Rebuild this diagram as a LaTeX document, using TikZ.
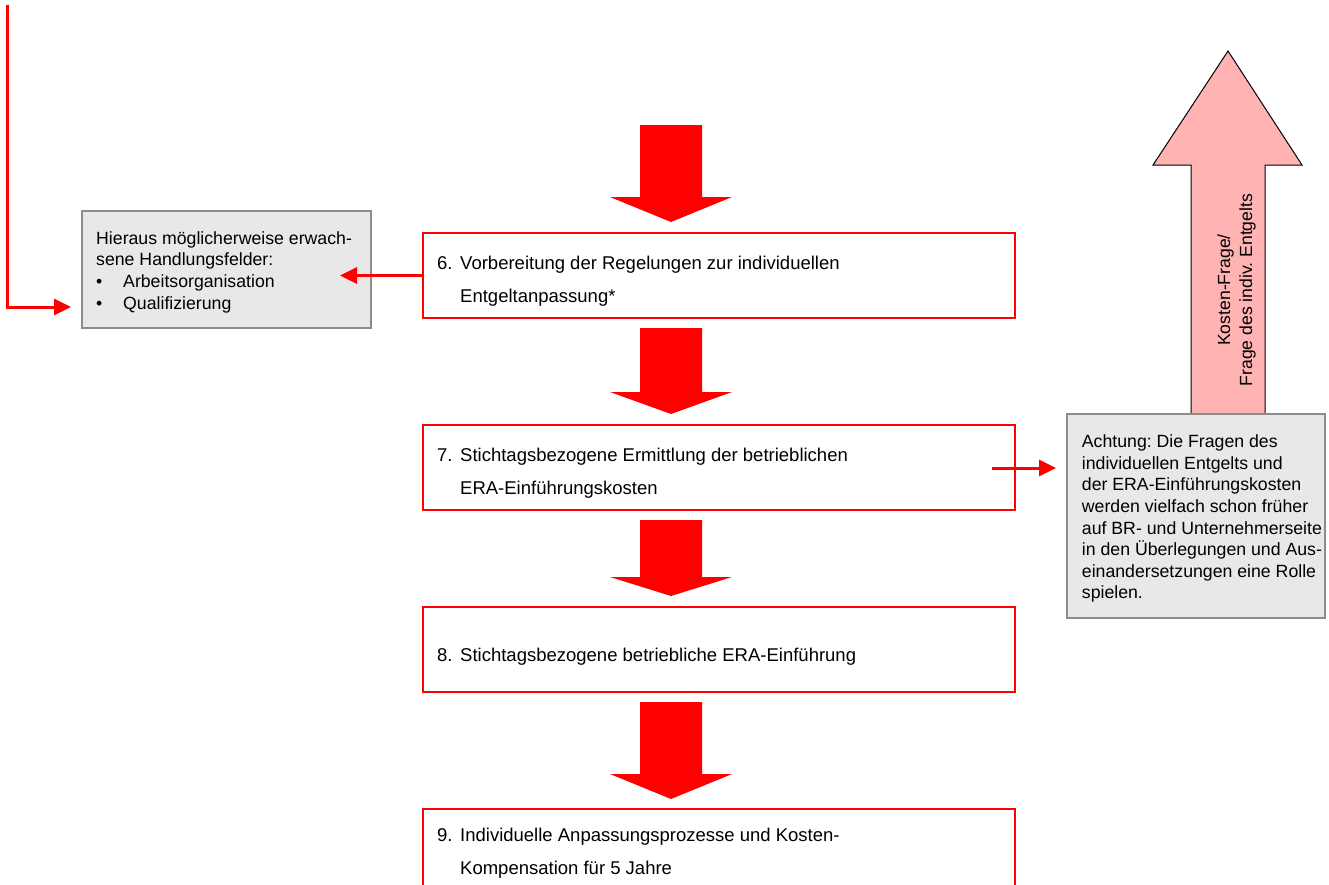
\documentclass[tikz,border=0pt]{standalone}
\usepackage{fontspec}
\setmainfont{Liberation Sans}
\usetikzlibrary{arrows.meta}
\definecolor{arrred}{RGB}{255,0,0}
\definecolor{graybg}{RGB}{232,232,232}
\definecolor{grayline}{RGB}{140,140,140}
\definecolor{pinkfill}{RGB}{255,179,179}
\newcommand{\redblockarrow}[3]{\fill[arrred] (640,#1) -- (702,#1) -- (702,#2) -- (732,#2) -- (671,#3) -- (610,#2) -- (640,#2) -- cycle;}
\frenchspacing
\begin{document}
\begin{tikzpicture}[x=1pt,y=-1pt,
 redbox/.style={draw=arrred, line width=2pt, rectangle, inner sep=0pt, minimum width=592pt, minimum height=85pt},
 steptext/.style={anchor=base west, inner sep=0pt, font=\fontsize{18.5}{32.8}\selectfont},
 notebox/.style={draw=grayline, fill=graybg, line width=1.5pt, rectangle, inner sep=0pt},
 notetext/.style={anchor=base west, inner sep=0pt, font=\fontsize{17.7}{21.6}\selectfont},
 redline/.style={draw=arrred, line width=3pt, -{Triangle[length=17pt,width=16pt]}}
]
\useasboundingbox (0,0) rectangle (1329,884);

% block arrows
\redblockarrow{125}{197}{222}
\redblockarrow{328}{392}{414}
\redblockarrow{520}{577}{596}
\redblockarrow{702}{774}{799}

% step boxes
\node[redbox] (b6) at (719,275.5) {};
\node[redbox] (b7) at (719,467.5) {};
\node[redbox] (b8) at (719,649.5) {};
\node[redbox, minimum height=90pt] (b9) at (719,854) {};

\node[steptext] (t6) at (437,269.5) {\begin{tabular}[t]{@{}l@{}l@{}}\makebox[23pt][l]{6.}&Vorbereitung der Regelungen zur individuellen\\ &Entgeltanpassung*\end{tabular}};
\node[steptext] (t7) at (437,461.7) {\begin{tabular}[t]{@{}l@{}l@{}}\makebox[23pt][l]{7.}&Stichtagsbezogene Ermittlung der betrieblichen\\ &ERA-Einführungskosten\end{tabular}};
\node[steptext] (t8) at (437,661) {\makebox[23pt][l]{8.}Stichtagsbezogene betriebliche ERA-Einführung};
\node[steptext] (t9) at (437,841.7) {\begin{tabular}[t]{@{}l@{}l@{}}\makebox[23pt][l]{9.}&Individuelle Anpassungsprozesse und Kosten-\\ &Kompensation für 5 Jahre\end{tabular}};

% left note
\node[notebox, minimum width=289pt, minimum height=117pt] (gl) at (226.5,269.5) {};
\node[notetext] (tl) at (96,244.3) {\begin{tabular}[t]{@{}l@{}l@{}}\multicolumn{2}{@{}l@{}}{Hieraus möglicherweise erwach-}\\ \multicolumn{2}{@{}l@{}}{sene Handlungsfelder:}\\ \makebox[27pt][l]{•}&Arbeitsorganisation\\ \makebox[27pt][l]{•}&Qualifizierung\end{tabular}};

% pink arrow
\filldraw[fill=pinkfill, draw=black, line width=1pt] (1191,415) -- (1191,165) -- (1153,165) -- (1228,51) -- (1302,165) -- (1265,165) -- (1265,415);
\node[rotate=90, anchor=base, inner sep=0pt, font=\fontsize{17.6}{22}\selectfont] (tk) at (1230,290) {\begin{tabular}[t]{@{}c@{}}Kosten-Frage/\\Frage des indiv. Entgelts\end{tabular}};

% right note
\node[notebox, minimum width=258pt, minimum height=204pt] (gr) at (1196,516) {};
\node[notetext] (tr) at (1081.7,447.7) {\begin{tabular}[t]{@{}l@{}}Achtung: Die Fragen des\\individuellen Entgelts und\\der ERA-Einführungskosten\\werden vielfach schon früher\\auf BR- und Unternehmerseite\\in den Überlegungen und Aus-\\einandersetzungen eine Rolle\\spielen.\end{tabular}};

% connectors
\coordinate (ltop) at (7,5);
\coordinate (lend) at (71,307);
\draw[redline] (ltop) |- (lend);
\coordinate (g6tip) at (340,0);
\draw[redline] (b6.west) -- (b6.west -| g6tip);
\coordinate (a7s) at (992,468);
\coordinate (a7e) at (1056,468);
\draw[redline] (a7s) -- (a7e);
\end{tikzpicture}
\end{document}
